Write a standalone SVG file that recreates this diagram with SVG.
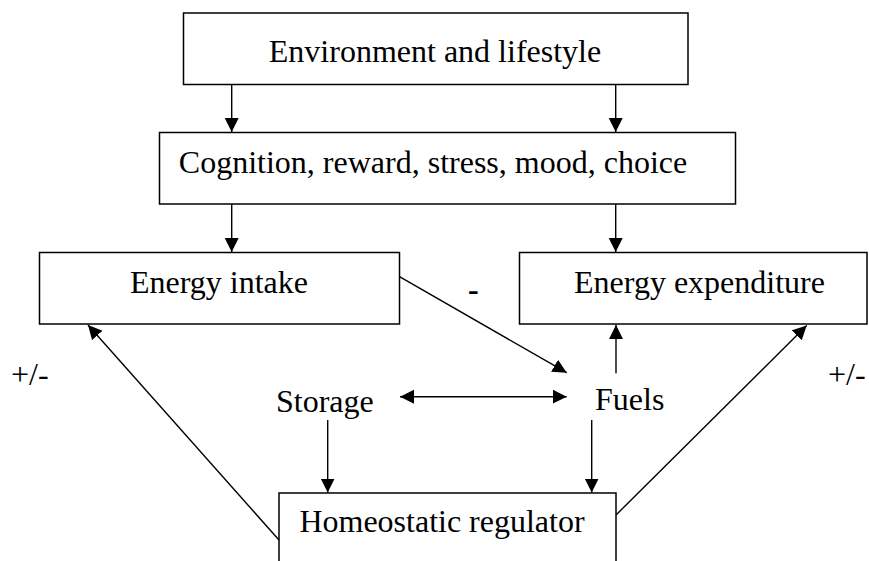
<svg xmlns="http://www.w3.org/2000/svg" width="869" height="561" viewBox="0 0 869 561">
<style>
.box{fill:#fff;stroke:#000;stroke-width:1.5}
.t{font-family:"Liberation Serif","Times New Roman",serif;font-size:32px;fill:#000}
.c{text-anchor:middle}
.ln{stroke:#000;stroke-width:1.4;fill:none}
</style>
<defs>
<marker id="ah" markerUnits="userSpaceOnUse" markerWidth="15" markerHeight="15" refX="14" refY="7" orient="auto-start-reverse" viewBox="0 0 15 14">
<path d="M0,0 L14,7 L0,14 Z" fill="#000"/>
</marker>
</defs>
<g id="env"><rect class="box" x="183.5" y="13" width="504.5" height="71.5"/><text class="t c" x="435" y="62">Environment and lifestyle</text></g>
<g id="cog"><rect class="box" x="159.5" y="132.5" width="576" height="71.5"/><text class="t c" x="433" y="173">Cognition, reward, stress, mood, choice</text></g>
<g id="intake"><rect class="box" x="39.5" y="252.5" width="360" height="71.5"/><text class="t c" x="219" y="293">Energy intake</text></g>
<g id="expend"><rect class="box" x="519.5" y="252.5" width="347.5" height="71.5"/><text class="t c" x="699.5" y="293">Energy expenditure</text></g>
<g id="storage"><text class="t" x="276" y="412">Storage</text></g>
<g id="fuels"><text class="t" x="595" y="410">Fuels</text></g>
<g id="homeo"><rect class="box" x="279" y="493" width="337" height="120"/><text class="t c" x="442" y="532">Homeostatic regulator</text></g>
<g id="labels">
<text class="t" x="11" y="385">+/-</text>
<text class="t" x="828" y="385">+/-</text>
<text class="t" x="468" y="300" style="font-weight:bold">-</text>
</g>
<g id="connectors">
<line class="ln" x1="231.7" y1="84.5" x2="231.7" y2="132" marker-end="url(#ah)"/>
<line class="ln" x1="615.7" y1="84.5" x2="615.7" y2="132" marker-end="url(#ah)"/>
<line class="ln" x1="231.7" y1="204" x2="231.7" y2="252" marker-end="url(#ah)"/>
<line class="ln" x1="615.7" y1="204" x2="615.7" y2="252" marker-end="url(#ah)"/>
<line class="ln" x1="399.5" y1="276.7" x2="566.7" y2="372.7" marker-end="url(#ah)"/>
<line class="ln" x1="616" y1="373.3" x2="616" y2="325" marker-end="url(#ah)"/>
<line class="ln" x1="400" y1="396.7" x2="566.7" y2="396.7" marker-start="url(#ah)" marker-end="url(#ah)"/>
<line class="ln" x1="327.7" y1="420" x2="327.7" y2="492.5" marker-end="url(#ah)"/>
<line class="ln" x1="591.7" y1="420" x2="591.7" y2="492.5" marker-end="url(#ah)"/>
<line class="ln" x1="279" y1="540" x2="88" y2="325" marker-end="url(#ah)"/>
<line class="ln" x1="616" y1="515" x2="806.7" y2="325.5" marker-end="url(#ah)"/>
</g>
</svg>
